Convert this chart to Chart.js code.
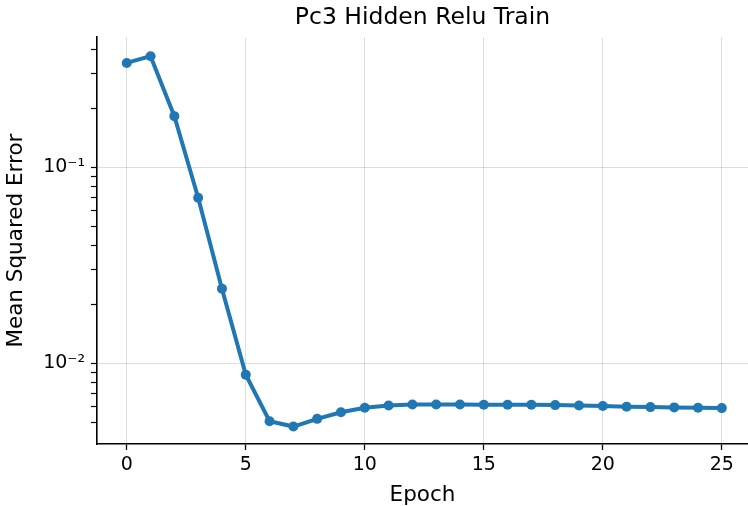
<!DOCTYPE html>
<html>
<head>
<meta charset="utf-8">
<script src="https://cdn.jsdelivr.net/npm/chart.js@4"></script>
<style>
  html, body { margin: 0; padding: 0; background: #fff; }
</style>
</head>
<body>
<canvas id="mseChart" width="748" height="506"></canvas>
<script>
const epochs = [0, 1, 2, 3, 4, 5, 6, 7, 8, 9, 10, 11, 12, 13, 14, 15, 16, 17, 18, 19, 20, 21, 22, 23, 24, 25];
const mse = [0.340, 0.368, 0.182, 0.0698, 0.0240, 0.00873, 0.00506, 0.00475, 0.00520, 0.00562,
  0.00592, 0.00608, 0.00615, 0.00615, 0.00615, 0.00614, 0.00614, 0.00614, 0.00611, 0.00608,
  0.00605, 0.00600, 0.00597, 0.00595, 0.00592, 0.00590];
const xTicks = [0, 5, 10, 15, 20, 25];
const yMajorTicks = [0.01, 0.1];
const yMajorLabels = ['10\u207B\u00B2', '10\u207B\u00B9'];

const blue = '#1f77b4';
const gridGray = 'rgba(0,0,0,0.13)';

function isPow10(v) {
  const l = Math.log10(v);
  return Math.abs(l - Math.round(l)) < 1e-6;
}
function isNiceLog(v) {
  const s = v / Math.pow(10, Math.floor(Math.log10(v) + 1e-9));
  return Math.abs(s - Math.round(s)) < 1e-6;
}

const points = epochs.map((e, i) => ({ x: e, y: mse[i] }));

const ctx = document.getElementById('mseChart').getContext('2d');
const mseChart = new Chart(ctx, {
  type: 'line',
  data: {
    datasets: [{
      label: 'Train',
      data: points,
      borderColor: blue,
      backgroundColor: blue,
      borderWidth: 4,
      pointRadius: 5,
      pointBorderWidth: 0,
      pointHoverRadius: 5,
      tension: 0,
      fill: false
    }]
  },
  options: {
    responsive: false,
    animation: false,
    devicePixelRatio: 1,
    layout: { padding: 0, autoPadding: false },
    plugins: {
      legend: { display: false },
      tooltip: { enabled: false },
      title: {
        display: true,
        text: 'Pc3 Hidden Relu Train',
        fullSize: false,
        color: '#000',
        font: { family: 'DejaVu Sans', size: 23.5, weight: 'normal', lineHeight: 1.2 },
        padding: { top: 4, bottom: 5 }
      }
    },
    scales: {
      x: {
        type: 'linear',
        min: -1.25,
        max: 26.1,
        afterFit: (scale) => {
          scale.height = 62;
          scale.paddingLeft = 0;
          scale.paddingRight = 0;
        },
        afterBuildTicks: (scale) => { scale.ticks = xTicks.map(v => ({ value: v })); },
        border: { color: '#000', width: 1.6 },
        grid: { color: gridGray, lineWidth: 1, tickColor: '#000', tickLength: 6, tickWidth: 1.3 },
        ticks: {
          color: '#000',
          font: { family: 'DejaVu Sans', size: 19 },
          padding: 4,
          maxRotation: 0
        },
        title: {
          display: true,
          text: 'Epoch',
          color: '#000',
          font: { family: 'DejaVu Sans', size: 21.5, lineHeight: 1 },
          padding: { top: 0, bottom: 0 }
        }
      },
      y: {
        type: 'logarithmic',
        min: 0.00387,
        max: 0.46,
        afterFit: (scale) => {
          scale.width = 97;
          scale.paddingTop = 0;
          scale.paddingBottom = 0;
        },
        border: { color: '#000', width: 1.6 },
        grid: {
          color: (c) => (c.tick && isPow10(c.tick.value)) ? gridGray : 'rgba(0,0,0,0)',
          tickColor: (c) => (c.tick && isNiceLog(c.tick.value)) ? '#000' : 'rgba(0,0,0,0)',
          tickLength: 6,
          tickWidth: 1.2
        },
        ticks: {
          autoSkip: false,
          color: '#000',
          font: { family: 'DejaVu Sans', size: 19 },
          padding: 6,
          callback: (v) => {
            const i = yMajorTicks.findIndex(t => Math.abs(t - v) / t < 1e-6);
            return i >= 0 ? yMajorLabels[i] : '';
          }
        },
        title: {
          display: true,
          text: 'Mean Squared Error',
          color: '#000',
          font: { family: 'DejaVu Sans', size: 21.5, lineHeight: 1.2 },
          padding: { top: 4, bottom: 0 }
        }
      }
    }
  }
});
</script>
</body>
</html>
